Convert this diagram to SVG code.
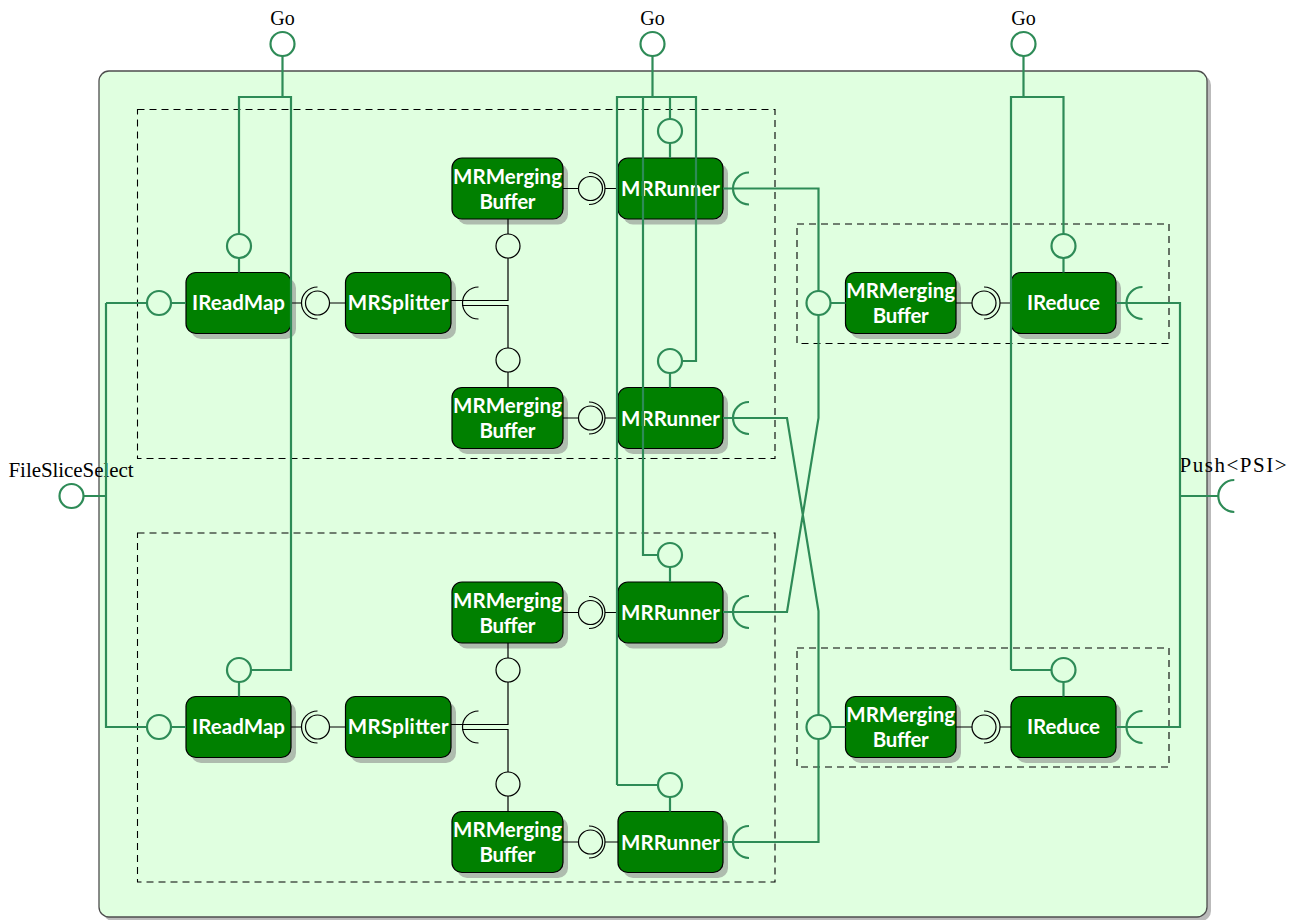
<svg xmlns="http://www.w3.org/2000/svg" width="1301" height="920" viewBox="0 0 1301 920">
<defs>
<style>
.node{fill:#008000;stroke:#000;stroke-width:1.2}
.shadow{fill:#aebcae}
.nt{font-family:Lato,"Open Sans","DejaVu Sans",sans-serif;font-weight:bold;font-size:20.5px;fill:#fff;text-anchor:middle}
.lbl{font-family:"Liberation Serif","Times New Roman",serif;font-size:20px;fill:#000;text-anchor:middle}
.lbl2{font-family:"Liberation Serif","Times New Roman",serif;font-size:21px;fill:#000;text-anchor:middle}
.g{fill:none;stroke:#2e8b57;stroke-width:2.2}
.k{fill:none;stroke:#000;stroke-width:1.2}
.dash{fill:none;stroke:#000;stroke-width:1.1;stroke-dasharray:7 5}
</style>
</defs>
<rect width="1301" height="920" fill="#fff"/>
<g id="system">
<rect x="103" y="75" width="1108" height="846" rx="10" fill="#bbb"/>
<rect x="99" y="71" width="1108" height="846" rx="10" fill="#e0ffe0" stroke="#4d4d4d" stroke-width="1.3"/>
</g>
<g id="partitions">
<rect class="dash" x="137.5" y="109.5" width="637.5" height="349"/>
<rect class="dash" x="137.5" y="533" width="637.5" height="349"/>
<rect class="dash" x="797" y="224" width="372" height="119.5"/>
<rect class="dash" x="797" y="648" width="372" height="119"/>
</g>
<g id="IReadMap1"><rect class="shadow" x="191" y="278" width="105" height="61" rx="10"/><rect class="node" x="186" y="272.5" width="105" height="61" rx="10"/><text class="nt" x="238.5" y="310" textLength="93">IReadMap</text></g>
<g id="MRSplitter1"><rect class="shadow" x="350.5" y="278" width="105.5" height="61" rx="10"/><rect class="node" x="345.5" y="272.5" width="105.5" height="61" rx="10"/><text class="nt" x="398.2" y="310" textLength="101">MRSplitter</text></g>
<g id="MRMergingBuffer1"><rect class="shadow" x="457" y="163.5" width="111" height="61" rx="10"/><rect class="node" x="452" y="158" width="111" height="61" rx="10"/><text class="nt" x="507.5" y="183.5" textLength="109">MRMerging</text><text class="nt" x="507.5" y="208.5" textLength="56">Buffer</text></g>
<g id="MRMergingBuffer2"><rect class="shadow" x="457" y="393" width="111" height="61" rx="10"/><rect class="node" x="452" y="387.5" width="111" height="61" rx="10"/><text class="nt" x="507.5" y="413" textLength="109">MRMerging</text><text class="nt" x="507.5" y="438" textLength="56">Buffer</text></g>
<g id="MRRunner1"><rect class="shadow" x="623" y="163.5" width="105" height="61" rx="10"/><rect class="node" x="618" y="158" width="105" height="61" rx="10"/><text class="nt" x="670.5" y="196" textLength="99">MRRunner</text></g>
<g id="MRRunner2"><rect class="shadow" x="623" y="393" width="105" height="61" rx="10"/><rect class="node" x="618" y="387.5" width="105" height="61" rx="10"/><text class="nt" x="670.5" y="425.5" textLength="99">MRRunner</text></g>
<g id="ReduceBuffer1"><rect class="shadow" x="850.5" y="278" width="110.5" height="61" rx="10"/><rect class="node" x="845.5" y="272.5" width="110.5" height="61" rx="10"/><text class="nt" x="900.7" y="298" textLength="109">MRMerging</text><text class="nt" x="900.7" y="323" textLength="56">Buffer</text></g>
<g id="IReduce1"><rect class="shadow" x="1016" y="278" width="105" height="61" rx="10"/><rect class="node" x="1011" y="272.5" width="105" height="61" rx="10"/><text class="nt" x="1063.5" y="310" textLength="73">IReduce</text></g>
<g id="IReadMap2"><rect class="shadow" x="191" y="702" width="105" height="61" rx="10"/><rect class="node" x="186" y="696.5" width="105" height="61" rx="10"/><text class="nt" x="238.5" y="734" textLength="93">IReadMap</text></g>
<g id="MRSplitter2"><rect class="shadow" x="350.5" y="702" width="105.5" height="61" rx="10"/><rect class="node" x="345.5" y="696.5" width="105.5" height="61" rx="10"/><text class="nt" x="398.2" y="734" textLength="101">MRSplitter</text></g>
<g id="MRMergingBuffer3"><rect class="shadow" x="457" y="587.5" width="111" height="61" rx="10"/><rect class="node" x="452" y="582" width="111" height="61" rx="10"/><text class="nt" x="507.5" y="607.5" textLength="109">MRMerging</text><text class="nt" x="507.5" y="632.5" textLength="56">Buffer</text></g>
<g id="MRMergingBuffer4"><rect class="shadow" x="457" y="817" width="111" height="61" rx="10"/><rect class="node" x="452" y="811.5" width="111" height="61" rx="10"/><text class="nt" x="507.5" y="837" textLength="109">MRMerging</text><text class="nt" x="507.5" y="862" textLength="56">Buffer</text></g>
<g id="MRRunner3"><rect class="shadow" x="623" y="587.5" width="105" height="61" rx="10"/><rect class="node" x="618" y="582" width="105" height="61" rx="10"/><text class="nt" x="670.5" y="620" textLength="99">MRRunner</text></g>
<g id="MRRunner4"><rect class="shadow" x="623" y="817" width="105" height="61" rx="10"/><rect class="node" x="618" y="811.5" width="105" height="61" rx="10"/><text class="nt" x="670.5" y="849.5" textLength="99">MRRunner</text></g>
<g id="ReduceBuffer2"><rect class="shadow" x="850.5" y="702" width="110.5" height="61" rx="10"/><rect class="node" x="845.5" y="696.5" width="110.5" height="61" rx="10"/><text class="nt" x="900.7" y="722" textLength="109">MRMerging</text><text class="nt" x="900.7" y="747" textLength="56">Buffer</text></g>
<g id="IReduce2"><rect class="shadow" x="1016" y="702" width="105" height="61" rx="10"/><rect class="node" x="1011" y="696.5" width="105" height="61" rx="10"/><text class="nt" x="1063.5" y="734" textLength="73">IReduce</text></g>
<g id="labels">
<text class="lbl" x="282.5" y="25">Go</text>
<text class="lbl" x="652.5" y="25">Go</text>
<text class="lbl" x="1023.5" y="25">Go</text>
<text class="lbl2" x="71" y="477" textLength="125">FileSliceSelect</text>
<text class="lbl2" x="1233" y="472" textLength="107">Push&lt;PSI&gt;</text>
</g>
<g id="connectors">
<path class="k" d="M291,303 H302 M329.5,303 H345.5"/>
<path class="k" d="M291,727 H302 M329.5,727 H345.5"/>
<path class="k" d="M317.5,287 A16,16 0 0 0 317.5,319 M317.5,711 A16,16 0 0 0 317.5,743"/>
<path class="k" d="M451,300.5 H508 V258 M462,305.5 H508 V348 M508,219 V234 M508,372 V387.5"/>
<path class="k" d="M478.5,287 A16,16 0 0 0 478.5,319"/>
<path class="k" d="M451,724.5 H508 V682 M462,729.5 H508 V772 M508,643 V658 M508,796 V811.5"/>
<path class="k" d="M478.5,711 A16,16 0 0 0 478.5,743"/>
<path class="k" d="M563,188.5 H578.5 M605,188.5 H618 M589,172.5 A16,16 0 0 1 589,204.5"/>
<path class="k" d="M563,418 H578.5 M605,418 H618 M589,402 A16,16 0 0 1 589,434"/>
<path class="k" d="M563,612.5 H578.5 M605,612.5 H618 M589,596.5 A16,16 0 0 1 589,628.5"/>
<path class="k" d="M563,842 H578.5 M605,842 H618 M589,826 A16,16 0 0 1 589,858"/>
<path class="k" d="M956,303 H972 M1000,303 H1011 M984,287 A16,16 0 0 1 984,319"/>
<path class="k" d="M956,727 H972 M1000,727 H1011 M984,711 A16,16 0 0 1 984,743"/>
<circle class="k" cx="317.5" cy="303" r="12"/>
<circle class="k" cx="317.5" cy="727" r="12"/>
<circle class="k" cx="508" cy="246" r="12"/>
<circle class="k" cx="508" cy="360" r="12"/>
<circle class="k" cx="508" cy="670" r="12"/>
<circle class="k" cx="508" cy="784" r="12"/>
<circle class="k" cx="590.5" cy="188.5" r="12"/>
<circle class="k" cx="590.5" cy="418" r="12"/>
<circle class="k" cx="590.5" cy="612.5" r="12"/>
<circle class="k" cx="590.5" cy="842" r="12"/>
<circle class="k" cx="984" cy="303" r="12"/>
<circle class="k" cx="984" cy="727" r="12"/>
<path class="g" d="M282.5,56 V97 M239,234 V97 H291 V670 H251 M239,258 V272.5 M239,682 V696.5"/>
<path class="g" d="M652.5,56 V97 M617,785 V97 H696 V361 H682 M670,97 V119 M643,97 V555 H658 M617,785 H658 M670,143 V158 M670,373 V387.5 M670,567 V582 M670,797 V811.5"/>
<path class="g" d="M1023.5,56 V97 M1011,670 V97 H1063.5 V234 M1011,670 H1051.5 M1063.5,258 V272.5 M1063.5,682 V696.5"/>
<path class="g" d="M83.5,496 H106 M106,303 H147 M106,303 V727 H147 M171,303 H186 M171,727 H186"/>
<path class="g" d="M723,188.5 H818.5 V291 M723,418 H787 L818.5,611 V715 M723,612 H787 L818.5,418 V315 M723,842 H818.5 V739 M830.5,303 H845.5 M830.5,727 H845.5"/>
<path class="g" d="M1116,303 H1180 V727 H1116 M1180,496 H1218"/>
<path class="g" d="M749,172.5 A16,16 0 0 0 749,204.5 M749,402 A16,16 0 0 0 749,434 M749,596 A16,16 0 0 0 749,628 M749,826 A16,16 0 0 0 749,858"/>
<path class="g" d="M1142.5,287 A16,16 0 0 0 1142.5,319 M1142.5,711 A16,16 0 0 0 1142.5,743 M1234.3,480 A16,16 0 0 0 1234.3,512"/>
<circle class="g" cx="282.5" cy="44" r="12"/>
<circle class="g" cx="652.5" cy="44" r="12"/>
<circle class="g" cx="1023.5" cy="44" r="12"/>
<circle class="g" cx="71.5" cy="496" r="12"/>
<circle class="g" cx="159" cy="303" r="12"/>
<circle class="g" cx="239" cy="246" r="12"/>
<circle class="g" cx="159" cy="727" r="12"/>
<circle class="g" cx="239" cy="670" r="12"/>
<circle class="g" cx="670" cy="131" r="12"/>
<circle class="g" cx="670" cy="361" r="12"/>
<circle class="g" cx="670" cy="555" r="12"/>
<circle class="g" cx="670" cy="785" r="12"/>
<circle class="g" cx="818.5" cy="303" r="12"/>
<circle class="g" cx="818.5" cy="727" r="12"/>
<circle class="g" cx="1063.5" cy="246" r="12"/>
<circle class="g" cx="1063.5" cy="670" r="12"/>
</g>
</svg>
